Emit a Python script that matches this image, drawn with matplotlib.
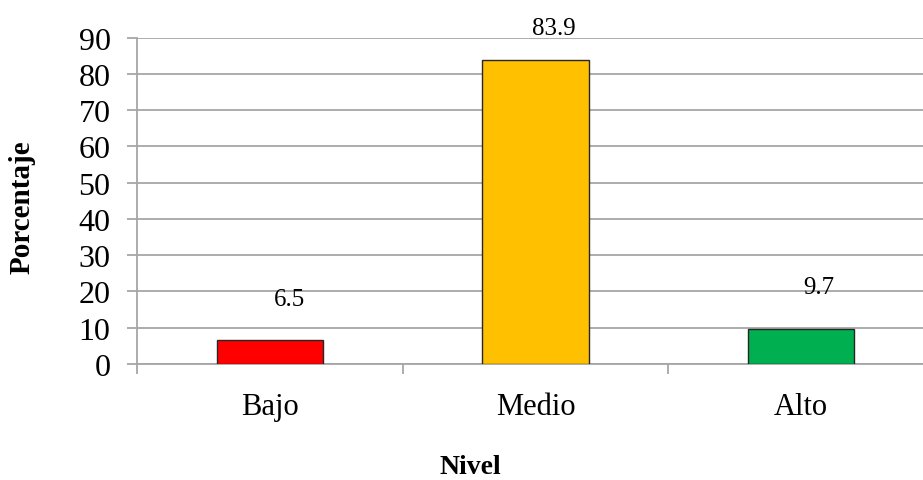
import matplotlib
matplotlib.use("Agg")
from matplotlib import pyplot as plt

# data
niveles = ["Bajo", "Medio", "Alto"]
porcentajes = [6.5, 83.9, 9.7]
colores = ["#FF0000", "#FFC000", "#00B050"]
yticks = list(range(0, 100, 10))

# label nudges (points), the labels were moved by hand in the original
label_dx = [14, 13, 13]
label_dy = [30, 23, 30]

plt.rcParams['font.family'] = ['Liberation Serif', 'DejaVu Serif']
grid_color = "#A6A6A6"

fig = plt.figure(figsize=(9.23, 4.81), dpi=100)
# axes runs a bit past the right edge, like the original
ax = fig.add_axes([137/923, 1 - 365/481, (934 - 137)/923, (365 - 38.5)/481])

x = list(range(len(niveles)))
ax.bar(x, porcentajes, width=0.4, color=colores, edgecolor="#262626", linewidth=1.0, zorder=3)

for xi, v, dx, dy in zip(x, porcentajes, label_dx, label_dy):
    ax.annotate(f"{v}", (xi, v), xytext=(dx, dy), textcoords="offset points",
                ha="center", va="center", fontsize=18, zorder=4, annotation_clip=False)

ax.set_xlim(-0.5, 2.5)
ax.set_ylim(0, 90)
ax.set_yticks(yticks)
ax.yaxis.grid(True, color=grid_color, linewidth=1.3)
ax.set_axisbelow(True)

# ticks on x go at category boundaries
ax.set_xticks([-0.5, 0.5, 1.5, 2.5])
ax.set_xticklabels([])
ax.set_xticks(x, minor=True)
ax.set_xticklabels(niveles, minor=True, fontsize=22)
ax.tick_params(axis="x", which="minor", length=0, pad=20)
ax.tick_params(axis="x", which="major", length=7, color=grid_color, width=1.3)
ax.tick_params(axis="y", length=7, color=grid_color, width=1.3, labelsize=23, pad=12)

for s in ["top", "right"]:
    ax.spines[s].set_visible(False)
for s in ["left", "bottom"]:
    ax.spines[s].set_color(grid_color)
    ax.spines[s].set_linewidth(1.3)

fig.text(22/923, 1 - 207/481, "Porcentaje", rotation=90, ha="center", va="center",
         fontsize=21, fontweight="bold")
fig.text(470/923, 1 - 468/481, "Nivel", ha="center", va="center",
         fontsize=20, fontweight="bold")

fig.savefig("out.png", dpi=100)
